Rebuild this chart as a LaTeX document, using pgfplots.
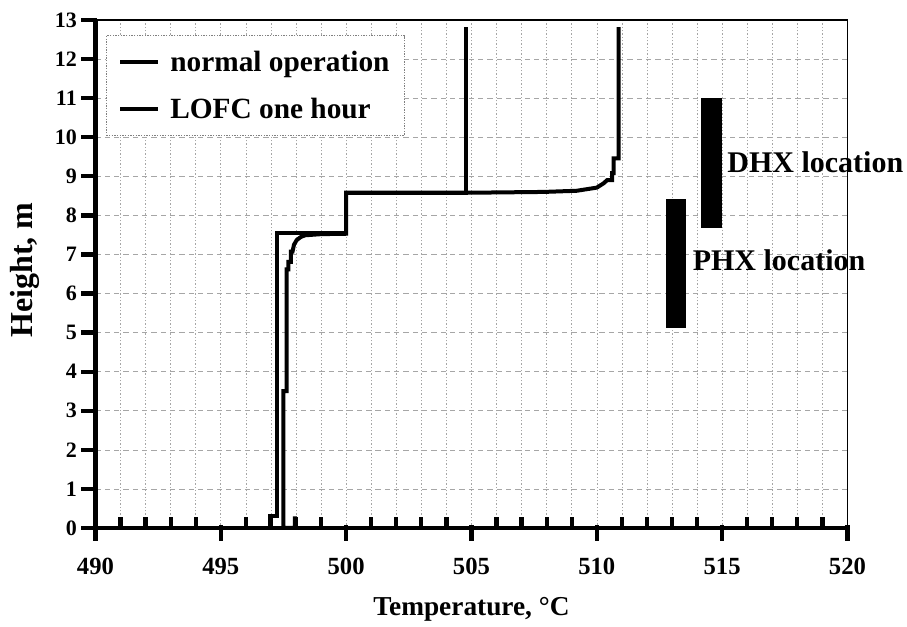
\documentclass[border=0pt]{standalone}
\usepackage{fontspec}
\setmainfont{Liberation Serif}
\usepackage{pgfplots}
\pgfplotsset{compat=1.18}
\begin{document}
\begin{tikzpicture}
\begin{axis}[
  scale only axis, width=564pt, height=381pt,
  xmin=490, xmax=520, ymin=0, ymax=13,
  xtick={490,495,...,520}, minor x tick num=4,
  ytick={0,1,...,13},
  tick pos=left,
  tick align=inside,
  major tick length=12pt, minor tick length=8.25pt,
  every tick/.style={black, line width=3.2pt},
  major x tick style={yshift=-9.75pt},
  major y tick style={xshift=-10.5pt},
  axis line style={line width=1pt},
  xmajorgrids, xminorgrids, ymajorgrids,
  major x grid style={gray!70, line width=0.45pt, dash pattern=on 1pt off 1.5pt},
  minor x grid style={gray!70, line width=0.45pt, dash pattern=on 1pt off 1.5pt},
  major y grid style={gray!70, line width=0.45pt, dash pattern=on 4pt off 3pt},
  /pgf/number format/assume math mode=true,
  xticklabel={\pgfmathprintnumber{\tick}},
  yticklabel={\pgfmathprintnumber{\tick}},
  xticklabel style={font=\fontsize{18.5}{21}\selectfont\bfseries, anchor=base},
  yticklabel style={font=\fontsize{16.5}{19}\selectfont\bfseries},
  xticklabel shift=35pt,
  yticklabel shift=10.5pt,
  xlabel={Temperature, \textdegree C},
  ylabel={Height, m},
  xlabel style={font=\fontsize{20.5}{24}\selectfont\bfseries, at={(axis description cs:0.5,-0.16)}, anchor=center},
  ylabel style={font=\fontsize{24}{28}\selectfont\bfseries, at={(axis description cs:-0.094,0.508)}, anchor=center},
  clip=false,
  legend style={at={(axis description cs:0.014,0.970)}, anchor=north west,
    draw=gray, dash pattern=on 1pt off 1pt, line width=0.5pt, fill=white,
    font=\fontsize{22}{26}\selectfont\bfseries,
    inner xsep=9pt, inner ysep=9.5pt, row sep=14.5pt,
    /tikz/every odd column/.append style={column sep=5.5pt}},
  legend cell align=left,
  legend image code/.code={\draw[#1, solid, line width=3pt] (0pt,0pt) -- (28.5pt,0pt);},
]
\addplot[black, solid, line width=3pt] coordinates {
(496.97,0) (496.97,0.3) (497.23,0.3) (497.23,7.55) (500.0,7.55) (500.0,8.58)
(504.8,8.58) (504.8,12.82)
};
\addlegendentry{normal operation}
\addplot[black, solid, line width=3pt] coordinates {
(497.96,0.3) (497.96,0) (497.50,0) (497.50,3.5) (497.63,3.5) (497.63,6.62)
(497.70,6.62) (497.70,6.81) (497.80,6.81) (497.80,7.07) (497.86,7.07)
(497.92,7.25) (498.03,7.37) (498.2,7.45) (498.36,7.49) (499.0,7.52) (500.0,7.53)
(500.0,8.58) (505.0,8.58) (507.88,8.6) (509.2,8.63) (510.0,8.71) (510.27,8.82)
(510.41,8.9) (510.61,8.9) (510.61,9.08) (510.67,9.08) (510.67,9.46) (510.87,9.46)
(510.87,12.82)
};
\addlegendentry{LOFC one hour}
\addplot[fill=black, draw=none, forget plot] coordinates {
(512.75,5.12) (513.55,5.12) (513.55,8.42) (512.75,8.42)
};
\addplot[fill=black, draw=none, forget plot] coordinates {
(514.16,7.68) (515.0,7.68) (515.0,11.0) (514.16,11.0)
};
\draw[black, line width=3.6pt] (rel axis cs:0,0) -- (rel axis cs:1,0);
\draw[black, line width=3.6pt] (rel axis cs:0,0) -- (rel axis cs:0,1);
\node[anchor=west, inner sep=0pt, font=\fontsize{22.5}{26}\selectfont\bfseries] at (axis cs:515.2,9.37) {DHX location};
\node[anchor=west, inner sep=0pt, font=\fontsize{22.5}{26}\selectfont\bfseries] at (axis cs:513.82,6.86) {PHX location};
\end{axis}
\path (current axis.south west) ++(-71.6pt,-74.25pt) rectangle ++(680.25pt,470.25pt);
\end{tikzpicture}
\end{document}
